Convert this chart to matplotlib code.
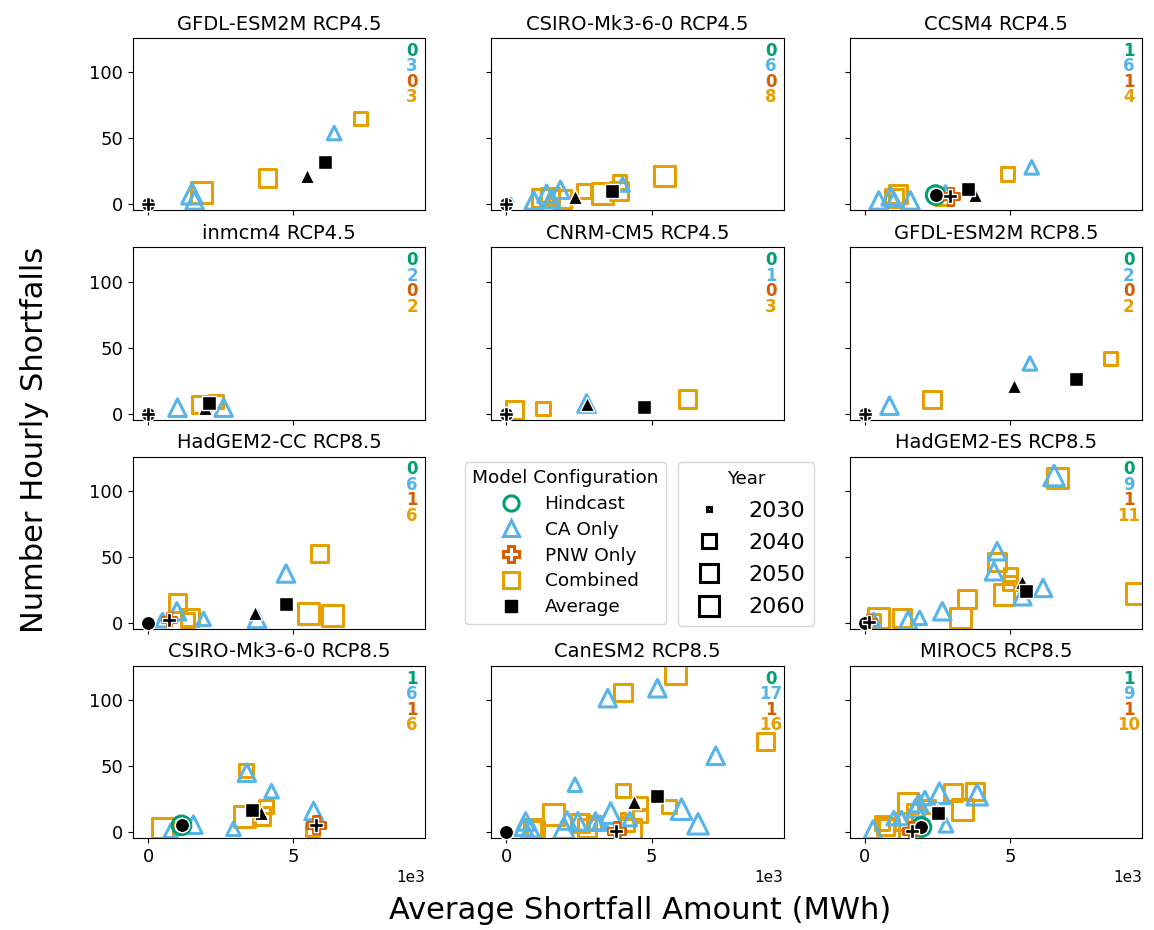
import matplotlib
matplotlib.use("Agg")
import matplotlib.pyplot as plt
from matplotlib.lines import Line2D

# ---------------------------------------------------------------------------
# Panel titles (grid order, None marks the slot used for the legends)
# ---------------------------------------------------------------------------
titles = [
    "GFDL-ESM2M RCP4.5", "CSIRO-Mk3-6-0 RCP4.5", "CCSM4 RCP4.5",
    "inmcm4 RCP4.5", "CNRM-CM5 RCP4.5", "GFDL-ESM2M RCP8.5",
    "HadGEM2-CC RCP8.5", None, "HadGEM2-ES RCP8.5",
    "CSIRO-Mk3-6-0 RCP8.5", "CanESM2 RCP8.5", "MIROC5 RCP8.5",
]

config_labels = ["Hindcast", "CA Only", "PNW Only", "Combined", "Average"]
years = [2030, 2040, 2050, 2060]

# ---------------------------------------------------------------------------
# Per-run results: average shortfall amount (MWh), number of hourly
# shortfalls, and study year.  One inner list per climate model panel.
# ---------------------------------------------------------------------------
hind_mwh = [[], [], [2440], [], [], [], [], [], [1150], [], [1950]]
hind_hours = [[], [], [7], [], [], [], [], [], [5.1], [], [3.8]]

ca_mwh = [
    [1510, 1600, 6410],
    [150, 940, 1380, 1540, 1860, 4000],
    [480, 890, 1000, 1570, 2780, 5750],
    [1010, 2600],
    [2760],
    [850, 5690],
    [440, 500, 990, 1910, 3750, 4750],
    [6520, 4560, 4450, 5430, 6140, 2670, 1890, 1490, 300],
    [780, 1560, 2940, 3400, 4250, 5700],
    [3490, 5200, 7210, 2360, 660, 830, 1980, 2090, 2460, 3070, 3590, 3470,
     4250, 6030, 6600, 600, 3200],
    [280, 1000, 1260, 1860, 2070, 2570, 2800, 3870, 1750],
]
ca_hours = [
    [8, 3, 54],
    [3, 3, 8, 4, 11, 15],
    [3, 6, 4, 3, 9, 28],
    [4.5, 4.5],
    [7.6],
    [6, 38],
    [3.8, 2, 8.8, 3, 3, 37.4],
    [111.6, 54.3, 39.1, 20.2, 26.5, 8.8, 3.8, 2, 2],
    [1, 5.6, 2.5, 45, 31, 16],
    [101.5, 109, 57.8, 35.9, 8.1, 3, 3, 8.8, 8.1, 8.1, 14.4, 3, 9.8, 17.4,
     6.3, 4, 7],
    [1.8, 10.6, 10.6, 22, 25.8, 29.5, 5.1, 28.3, 18.2],
]
ca_year = [
    [2060, 2050, 2040],
    [2030, 2050, 2050, 2050, 2050, 2040],
    [2050, 2050, 2040, 2050, 2040, 2040],
    [2050, 2050],
    [2050],
    [2050, 2040],
    [2030, 2040, 2050, 2040, 2050, 2050],
    [2060, 2050, 2050, 2050, 2050, 2050, 2040, 2050, 2040],
    [2040, 2050, 2040, 2050, 2040, 2050],
    [2050, 2050, 2050, 2040, 2050, 2050, 2060, 2050, 2050, 2050, 2060, 2030,
     2040, 2060, 2060, 2050, 2040],
    [2050, 2040, 2040, 2050, 2040, 2060, 2040, 2060, 2050],
]

pnw_mwh = [[], [], [2950], [], [], [], [720], [150], [5780], [3790], [1630]]
pnw_hours = [[], [], [6], [], [], [], [2.5], [1], [5.6], [1], [0.8]]
pnw_year = [[], [], [2050], [], [], [], [2040], [2040], [2050], [2050], [2050]]

comb_mwh = [
    [1840, 4110, 7310],
    [1170, 1500, 1920, 2670, 3300, 3870, 3900, 5450],
    [1000, 1150, 2720, 4910],
    [1820, 2330],
    [280, 1260, 6230],
    [2320, 8470],
    [1010, 1450, 1350, 5520, 6360, 5900],
    [6630, 4560, 5020, 4790, 3530, 3300, 1290, 480, 9360, 5000, 300],
    [490, 3370, 3310, 3900, 4060, 5670],
    [4020, 5830, 8930, 1610, 890, 2530, 2780, 4020, 4600, 4600, 4280, 5600,
     4020, 4160, 3010, 1000],
    [710, 830, 1490, 1340, 3030, 3360, 3790, 1750, 2200, 600],
]
comb_hours = [
    [9, 20, 65],
    [5, 6, 4, 10, 8, 10, 17, 21.5],
    [5, 8, 6, 23],
    [7, 9],
    [2.5, 4, 11],
    [10.6, 41.7],
    [15, 4, 2, 7, 5.6, 52.5],
    [109.8, 46, 36.6, 21.5, 18.2, 3.8, 3.8, 3.8, 22, 30, 1.5],
    [3, 46.7, 11.9, 12, 19.4, 2],
    [105.8, 120, 68.7, 13.1, 3, 6.8, 3, 31.6, 21.5, 12.4, 1.8, 19.4, 13.1,
     5.6, 6.8, 1.8],
    [4.3, 1.8, 22, 8.1, 30, 16.9, 30.8, 14.4, 19.4, 6.8],
]
comb_year = [
    [2060, 2050, 2040],
    [2050, 2050, 2050, 2040, 2060, 2050, 2040, 2060],
    [2050, 2050, 2050, 2040],
    [2050, 2040],
    [2050, 2040, 2050],
    [2050, 2040],
    [2050, 2050, 2040, 2060, 2060, 2050],
    [2060, 2050, 2040, 2060, 2050, 2060, 2050, 2060, 2060, 2040, 2040],
    [2060, 2040, 2060, 2050, 2040, 2040],
    [2050, 2060, 2050, 2060, 2050, 2050, 2050, 2040, 2040, 2040, 2060, 2040,
     2030, 2040, 2040, 2050],
    [2050, 2060, 2060, 2050, 2050, 2060, 2050, 2050, 2040, 2040],
]

# Average (shortfall amount, hours) for each configuration in each panel
avg_hind = [(0, 0), (0, 0), (2440, 7), (0, 0), (0, 0), (0, 0), (0, 0),
            (0, 0), (1150, 5.1), (0, 0), (1950, 3.8)]
avg_ca = [(5490, 21.2), (2360, 5.8), (3790, 7), (1950, 4.5), (2760, 7.6),
          (5140, 21), (3690, 7.6), (5430, 31), (3890, 14.4), (4390, 22.5),
          (2500, 17)]
avg_pnw = [(0, 0), (0, 0), (2950, 6), (0, 0), (0, 0), (0, 0), (720, 2.5),
           (150, 1), (5780, 5.6), (3790, 1), (1630, 0.8)]
avg_comb = [(6090, 31.8), (3620, 10.4), (3550, 11.4), (2100, 8.3), (4740, 5.1),
            (7260, 26.5), (4750, 14.4), (5560, 24), (3570, 16.4), (5200, 27.5),
            (2530, 14.4)]

# ---------------------------------------------------------------------------
# Styling
# ---------------------------------------------------------------------------
C_HIND = "#009E73"
C_CA = "#56B4E9"
C_PNW = "#D55E00"
C_COMB = "#E69F00"
year_size = {2030: 10, 2040: 95, 2050: 160, 2060: 220}
HIND_SIZE = 180
AVG_SIZE = 105
EDGE_W = 2.2

fig = plt.figure(figsize=(11.54, 9.30), dpi=100)
gs = fig.add_gridspec(4, 3, left=0.1153, right=0.9896, top=0.9591,
                      bottom=0.0989, wspace=0.226, hspace=0.215)
axes = [fig.add_subplot(gs[i // 3, i % 3]) for i in range(12)]
for ax in axes[1:]:
    ax.sharex(axes[0])
    ax.sharey(axes[0])


def hollow(ax, x, y, sizes, marker, color, z):
    if len(x) == 0:
        return
    ax.scatter(x, y, s=sizes, marker=marker, facecolors="none",
               edgecolors=color, linewidths=EDGE_W, zorder=z)


panel = 0
for slot, ax in enumerate(axes):
    if titles[slot] is None:
        ax.axis("off")
        continue
    p = panel
    panel += 1
    hollow(ax, comb_mwh[p], comb_hours[p], [year_size[v] for v in comb_year[p]],
           "s", C_COMB, 2)
    hollow(ax, ca_mwh[p], ca_hours[p], [year_size[v] for v in ca_year[p]],
           "^", C_CA, 3)
    hollow(ax, hind_mwh[p], hind_hours[p], [HIND_SIZE] * len(hind_mwh[p]),
           "o", C_HIND, 4)
    hollow(ax, pnw_mwh[p], pnw_hours[p], [year_size[v] for v in pnw_year[p]],
           "P", C_PNW, 5)

    for (ax_x, ax_y), mk, z in [(avg_hind[p], "o", 6), (avg_ca[p], "^", 7),
                                (avg_comb[p], "s", 8), (avg_pnw[p], "P", 9)]:
        ax.scatter([ax_x], [ax_y], s=AVG_SIZE, marker=mk, c="black",
                   edgecolors="white", linewidths=1.0, zorder=z, clip_on=False)

    counts = [len(hind_mwh[p]), len(ca_mwh[p]), len(pnw_mwh[p]), len(comb_mwh[p])]
    for k, (n, col) in enumerate(zip(counts, [C_HIND, C_CA, C_PNW, C_COMB])):
        ax.text(0.955, 0.926 - 0.09 * k, str(n), transform=ax.transAxes,
                ha="center", va="center", color=col, fontsize=12,
                fontweight="bold")

    ax.set_title(titles[slot], fontsize=14)
    ax.set_xlim(-520, 9550)
    ax.set_ylim(-4.5, 126)
    ax.set_xticks([0, 5000])
    ax.set_yticks([0, 50, 100])
    ax.ticklabel_format(axis="x", style="sci", scilimits=(3, 3))
    ax.tick_params(labelsize=13)
    ax.xaxis.get_offset_text().set_fontsize(11)
    row, col = divmod(slot, 3)
    if row < 3:
        ax.tick_params(labelbottom=False)
        ax.xaxis.get_offset_text().set_visible(False)
    if col > 0:
        ax.tick_params(labelleft=False)

fig.supylabel("Number Hourly Shortfalls", fontsize=22, x=0.030, y=0.527,
              ha="center", va="center")
fig.supxlabel("Average Shortfall Amount (MWh)", fontsize=22, x=0.555, y=0.0215,
              ha="center", va="center")

# Legend: model configuration
cfg_handles = [
    Line2D([], [], ls="none", marker="o", mfc="none", mec=C_HIND, mew=EDGE_W, ms=11),
    Line2D([], [], ls="none", marker="^", mfc="none", mec=C_CA, mew=EDGE_W, ms=11),
    Line2D([], [], ls="none", marker="P", mfc="none", mec=C_PNW, mew=EDGE_W, ms=11),
    Line2D([], [], ls="none", marker="s", mfc="none", mec=C_COMB, mew=EDGE_W, ms=11),
    Line2D([], [], ls="none", marker="s", color="black", ms=8),
]
fig.legend(cfg_handles, config_labels, title="Model Configuration",
           loc="upper left", bbox_to_anchor=(0.4029, 0.5032),
           borderaxespad=0, fontsize=13.3, title_fontsize=13.3,
           labelspacing=0.42)

# Legend: study year (marker size)
yr_handles = [Line2D([], [], ls="none", marker="s", mfc="none", mec="black",
                     mew=EDGE_W, ms=year_size[y] ** 0.5) for y in years]
fig.legend(yr_handles, [str(y) for y in years], title="Year",
           loc="upper left", bbox_to_anchor=(0.5875, 0.5032),
           borderaxespad=0, fontsize=16, title_fontsize=13,
           labelspacing=0.55, borderpad=0.38)

fig.savefig("out.png", dpi=100)
